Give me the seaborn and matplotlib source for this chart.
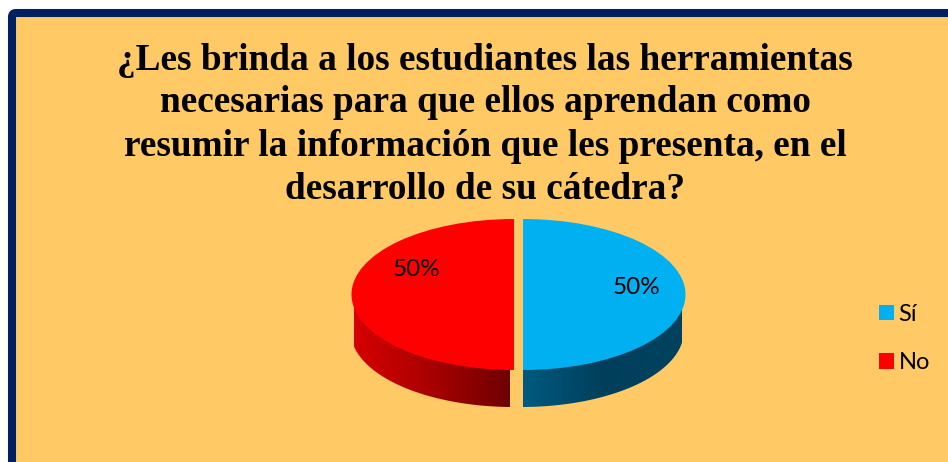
import numpy as np
import matplotlib
matplotlib.use('Agg')
import matplotlib.pyplot as plt
from matplotlib.patches import FancyBboxPatch, Polygon
import seaborn as sns

W, H = 948, 462

# chart data
categories = ['Sí', 'No']
shares = [50, 50]
title_lines = [
    '¿Les brinda a los estudiantes las herramientas',
    'necesarias para que ellos aprendan como',
    'resumir la información que les presenta, en el',
    'desarrollo de su cátedra?',
]

# colours
pie_colors = ['#00B0F0', '#FF0000']
side_colors = [['#005a80', '#003f5c', '#00435f'], ['#d60000', '#a80000', '#6e0000']]
panel_color = '#FFC966'
border_color = '#002060'

sns.set_theme(style='white')
plt.rcParams['font.family'] = ['Lato', 'DejaVu Sans']

fig = plt.figure(figsize=(W / 100, H / 100), dpi=100, facecolor='white')


def px(x, y):
    return x / W, 1 - y / H


# panel with the dark blue frame, it runs off the right and bottom of the image
bg = fig.add_axes([0, 0, 1, 1], zorder=0)
bg.set_xlim(0, W)
bg.set_ylim(H, 0)
bg.axis('off')
bg.add_patch(FancyBboxPatch((12, 13), W + 40, H + 40,
                            boxstyle='round,pad=0,rounding_size=4',
                            facecolor=panel_color, edgecolor=border_color, linewidth=5.8))

# pie axes: one data unit is 162.5 px across and 75.5 px down
rx, ry = 162.5, 75.5
cx, cy = 518.5, 294.5
depth = 37 / ry
x0, x1 = -1.25, 1.25
y0, y1 = -1.8, 1.2
ax = fig.add_axes([(cx + x0 * rx) / W, 1 - (cy - y0 * ry) / H,
                   (x1 - x0) * rx / W, (y1 - y0) * ry / H], zorder=1)
gap = 4.5 / rx

# wall of the cylinder: a smooth ramp clipped to each half
walls = [(523 - cx, 682 - cx), (354 - cx, 510 - cx)]
for (left, right), colors in zip(walls, side_colors):
    left, right = left / rx, right / rx
    ramp = np.array(sns.blend_palette(colors, 256))[None, :, :3]
    u = np.linspace(left, right, 120)
    # wall bottom follows the rim of the lower ellipse
    shift = (left + right) / 2 - np.sign(left + right) * 0.5
    top = -np.sqrt(np.clip(1 - u ** 2, 0, 1)) + 0.12
    bottom = -np.sqrt(np.clip(1 - (u - shift) ** 2, 0, 1)) - depth
    poly = Polygon(np.r_[np.c_[u, top], np.c_[u[::-1], bottom[::-1]]],
                   closed=True, transform=ax.transData, facecolor='none', edgecolor='none')
    ax.add_patch(poly)
    im = ax.imshow(ramp, extent=(left, right, y0, y1), aspect='auto', interpolation='bilinear')
    im.set_clip_path(poly)

wedges, _ = ax.pie(shares, colors=pie_colors, startangle=90, counterclock=False,
                   explode=[gap, gap], radius=1, wedgeprops={'linewidth': 0, 'zorder': 5})
ax.set_aspect('auto')
ax.set_xlim(x0, x1)
ax.set_ylim(y0, y1)
ax.axis('off')

# title
for line, y in zip(title_lines, [60, 103, 146, 189]):
    fx, fy = px(485, y)
    fig.text(fx, fy, line, ha='center', va='center', fontsize=26.85, fontweight='bold',
             family=['Liberation Serif'], color='black', zorder=3)

# slice labels
for v, (lx, ly) in zip(shares, [(637, 288), (417, 270)]):
    fx, fy = px(lx, ly)
    fig.text(fx, fy, f'{v}%', ha='center', va='center', fontsize=17.5, color='black', zorder=3)

# legend
fig.legend(wedges, categories, loc='center left', bbox_to_anchor=px(867, 338.5),
           frameon=False, fontsize=17, handlelength=0.64, handleheight=0.64,
           handletextpad=0.2, labelspacing=1.15, borderpad=0, labelcolor='black')

fig.savefig('out.png', dpi=100, facecolor='white')
